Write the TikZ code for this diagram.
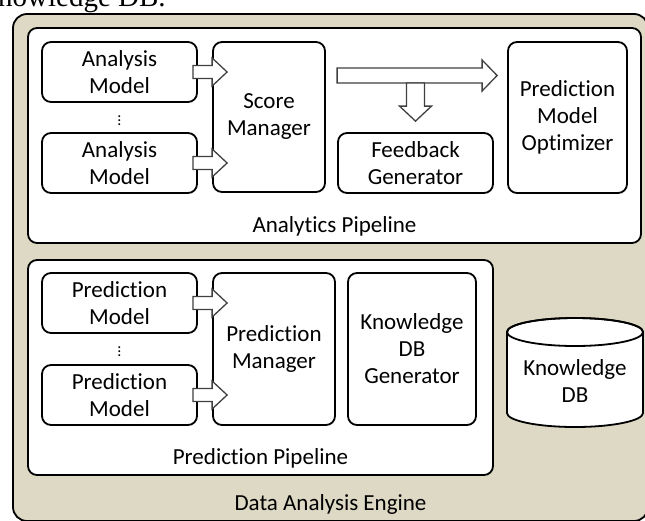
\documentclass[tikz,border=0pt]{standalone}
\usepackage{fontspec}
\setmainfont{Carlito}[Ligatures=NoCommon]
\newfontfamily\bodyserif{Liberation Serif}
\usetikzlibrary{%
  positioning
 ,calc
 ,shapes
}
\definecolor{engtan}{RGB}{221,217,196}
\definecolor{arrowgray}{RGB}{64,64,64}
\tikzset{box/.style={draw=black,line width=1.8pt,rounded corners=9pt,fill=white,align=center,inner sep=0pt,font=\fontsize{23}{27}\selectfont}}
\tikzset{lbl/.style={inner sep=0pt,font=\fontsize{23}{27}\selectfont}}
\tikzset{fat/.style n args={3}{draw=arrowgray,line width=1.3pt,fill=white,sharp corners,
  to path={($(\tikztostart)!#1!90:(\tikztotarget)$)
    -- ($(\tikztotarget)!#3!(\tikztostart)!#1!-90:(\tikztostart)$)
    -- ($(\tikztotarget)!#3!(\tikztostart)!#2!-90:(\tikztostart)$)
    -- (\tikztotarget)
    -- ($(\tikztotarget)!#3!(\tikztostart)!#2!90:(\tikztostart)$)
    -- ($(\tikztotarget)!#3!(\tikztostart)!#1!90:(\tikztostart)$)
    -- ($(\tikztostart)!#1!-90:(\tikztotarget)$) -- cycle}}}

\begin{document}
\begin{tikzpicture}[x=1pt,y=-1pt,on grid]
  \useasboundingbox (0,0) rectangle (645,520);
  % line of the page above, cut off
  \node[anchor=base west,inner sep=0pt,font=\bodyserif\fontsize{29}{34}\selectfont] (pagetext) at (-23,6) {Knowledge DB.};
  % engine
  \node[box,fill=engtan,rounded corners=14pt,minimum width=635pt,minimum height=507pt] (eng) at (330.5,267.5) {};
  \node[lbl] (englbl) at ($(eng.south)+(0,-17)$) {Data Analysis Engine};
  % analytics pipeline
  \node[box,minimum width=613pt,minimum height=215pt] (ap) at (334.5,135.5) {};
  \node[lbl] (aplbl) at ($(ap.south)+(0,-18)$) {Analytics Pipeline};
  \node[box,minimum width=155pt,minimum height=60pt] (am1) at (119.5,72) {Analysis\\Model};
  \node[box,minimum width=155pt,minimum height=60pt,below=91pt of am1] (am2) {Analysis\\Model};
  \node[inner sep=0pt,font=\fontsize{16}{16}\selectfont] (adots) at ($(am1)!0.5!(am2)$) {$\vdots$};
  \node[box,minimum width=112pt,minimum height=150pt] (sm) at (269,117) {Score\\Manager};
  \node[box,minimum width=155pt,minimum height=60pt] (fg) at (415.5,163) {Feedback\\Generator};
  \node[box,minimum width=119pt,minimum height=151pt] (opt) at (567.5,117.5) {Prediction\\Model\\Optimizer};
  % prediction pipeline
  \node[box,minimum width=465pt,minimum height=215pt] (pp) at (260.5,367.5) {};
  \node[lbl] (pplbl) at ($(pp.south)+(0,-18)$) {Prediction Pipeline};
  \node[box,minimum width=155pt,minimum height=60pt] (pm1) at (119.5,303) {Prediction\\Model};
  \node[box,minimum width=155pt,minimum height=60pt,below=92pt of pm1] (pm2) {Prediction\\Model};
  \node[inner sep=0pt,font=\fontsize{16}{16}\selectfont] (pdots) at ($(pm1)!0.5!(pm2)$) {$\vdots$};
  \node[box,minimum width=122pt,minimum height=152pt] (pmgr) at (274,349) {Prediction\\Manager};
  \node[box,minimum width=128pt,minimum height=152pt] (kdbg) at (412,349) {Knowledge\\DB\\Generator};
  % database
  \draw[line width=1.8pt,fill=white] (507,332) -- (507,413)
    arc[start angle=180,end angle=0,x radius=68,y radius=14] -- (643,332)
    arc[start angle=0,end angle=-180,x radius=68,y radius=14] -- cycle;
  \draw[line width=1.8pt] (575,332) ellipse[x radius=68,y radius=14];
  \node[lbl,align=center] (kdb) at (575,381) {Knowledge\\DB};
  % block arrows
  \draw[fat={6.5pt}{14pt}{15pt}] ($(am1.east)+(-5,0)$) to ($(sm.west |- am1.east)+(15,0)$);
  \draw[fat={6.5pt}{14pt}{15pt}] ($(am2.east)+(-5,0)$) to ($(sm.west |- am2.east)+(15,0)$);
  \draw[fat={6.5pt}{14pt}{15pt}] ($(pm1.east)+(-5,0)$) to ($(pmgr.west |- pm1.east)+(15,0)$);
  \draw[fat={6.5pt}{14pt}{15pt}] ($(pm2.east)+(-5,0)$) to ($(pmgr.west |- pm2.east)+(15,0)$);
  \coordinate (split) at ($(fg.west |- am1)+(0,3.5)$);
  \coordinate (fork) at ($(fg.north |- split)+(0,7.5)$);
  \draw[fat={7.5pt}{15.5pt}{15pt}] (split) to ($(opt.west |- split)+(-10,0)$);
  \draw[fat={9pt}{16pt}{15pt}] (fork) to ($(fg.north)+(0,-11)$);
\end{tikzpicture}
\end{document}
